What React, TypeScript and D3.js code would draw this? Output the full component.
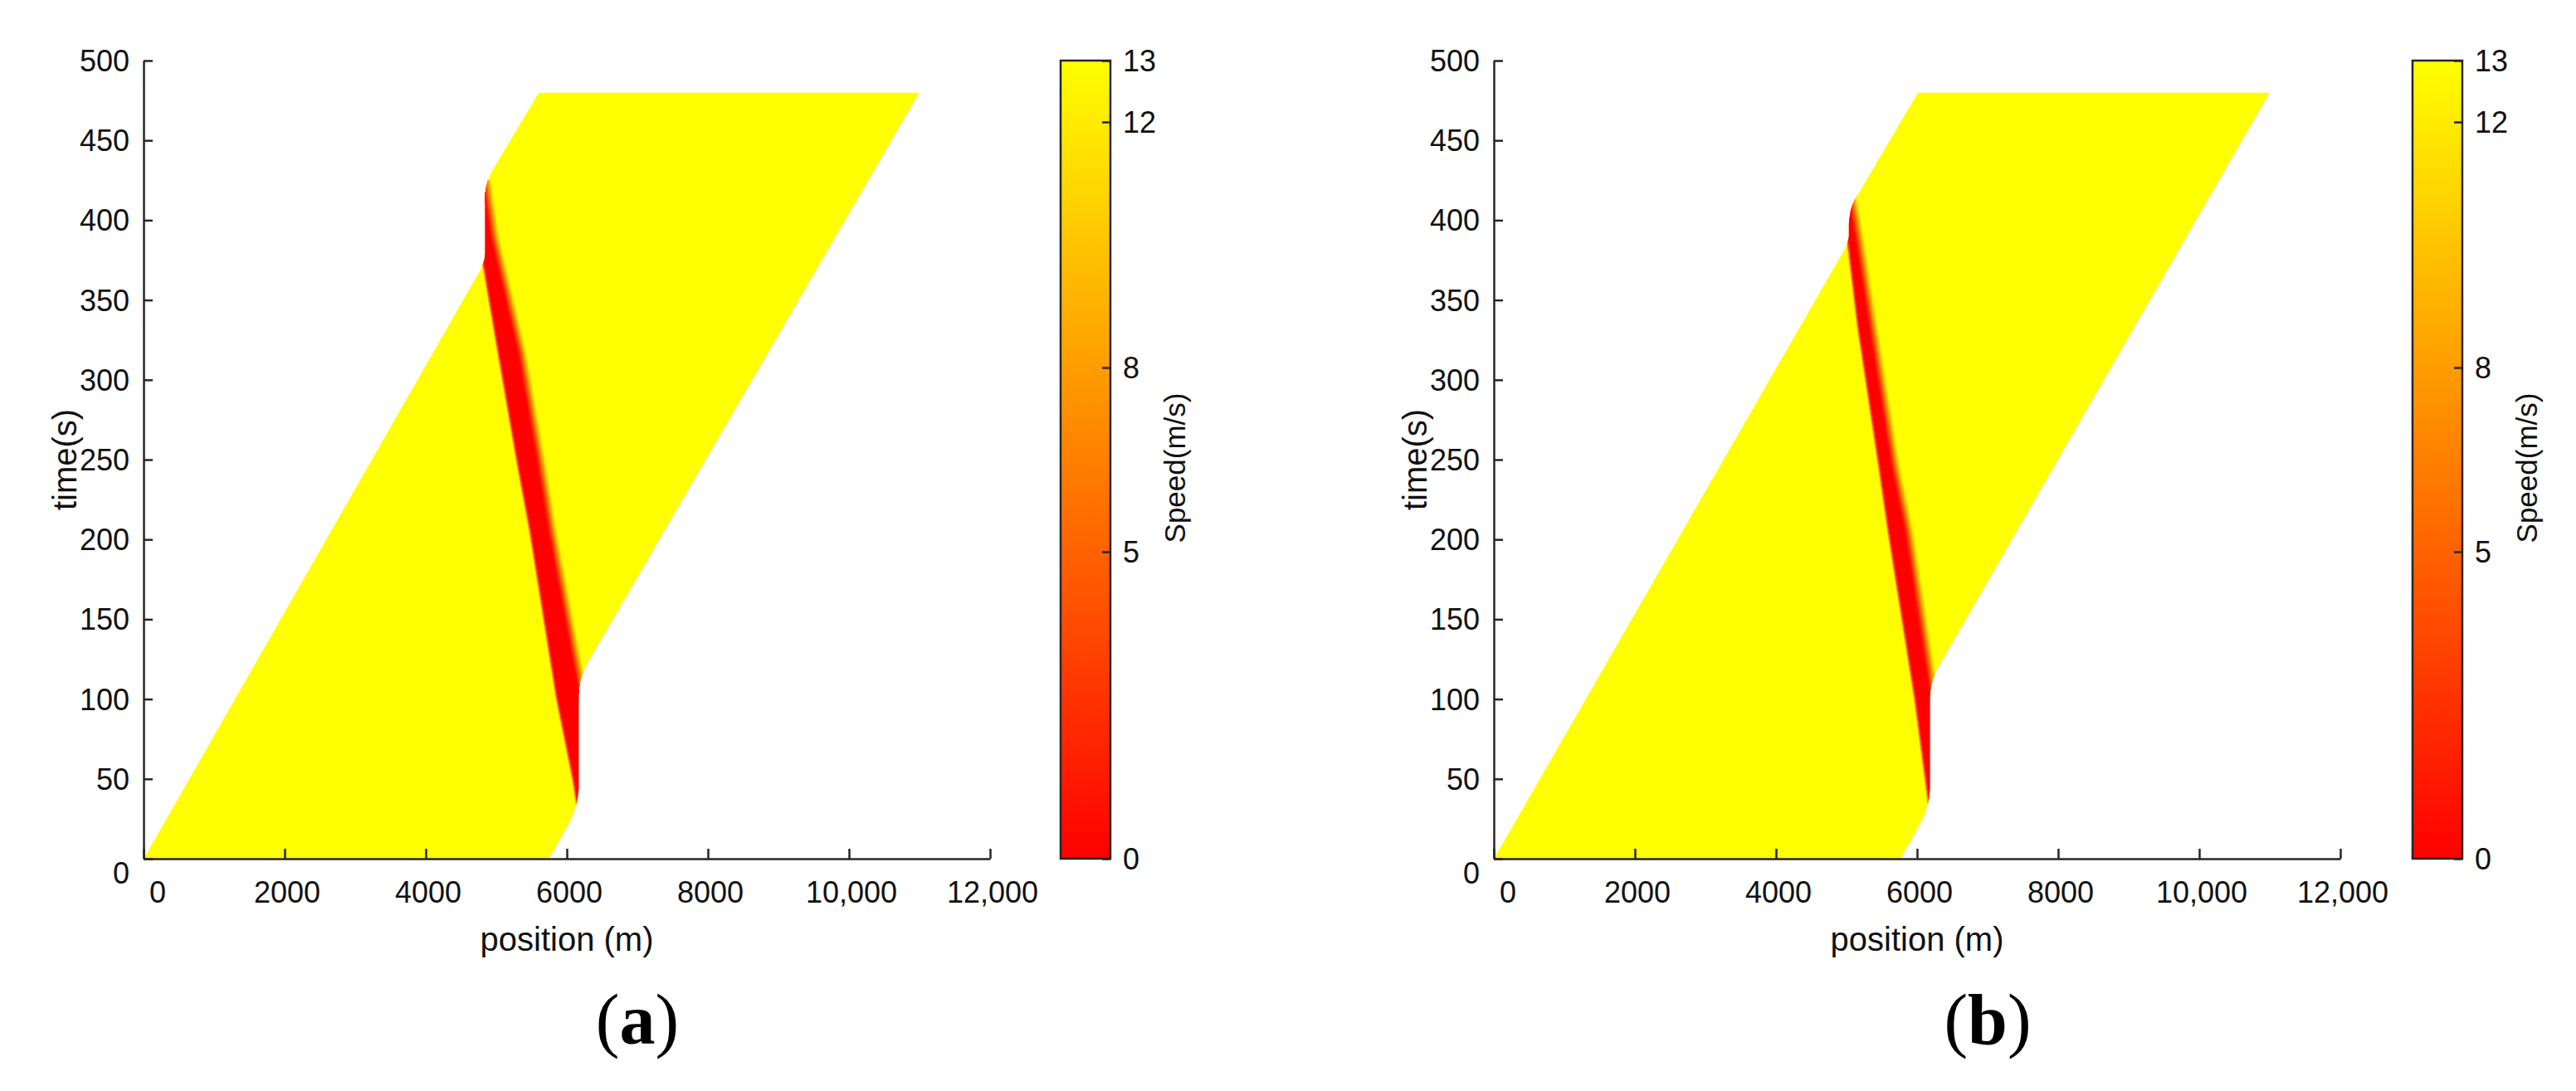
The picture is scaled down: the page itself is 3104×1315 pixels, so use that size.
import React, { useEffect, useRef } from "react";
import * as d3 from "d3";

const WIDTH = 3104;
const HEIGHT = 1315;

// axis ticks
const xTicks = [0, 2000, 4000, 6000, 8000, 10000, 12000];
const xTickLabels = ["0", "2000", "4000", "6000", "8000", "10,000", "12,000"];
const yTicks = [0, 50, 100, 150, 200, 250, 300, 350, 400, 450, 500];
const cbTicks = [0, 5, 8, 12, 13];

// panel (a): trajectory of the last vehicle (left edge of the field)
const lastTimeA = [0, 369, 373, 376, 379, 413, 417, 421, 425, 429, 480];
const lastPosA = [0, 4774, 4815, 4832, 4839, 4839, 4843, 4857, 4880, 4915, 5600];
// panel (a): trajectory of the first vehicle (right edge of the field)
const firstTimeA = [0, 22, 28, 33, 38, 44, 103, 107, 111, 115, 119, 124, 480];
const firstPosA = [5750, 6030, 6090, 6128, 6155, 6170, 6170, 6174, 6188, 6215, 6256, 6314, 11000];
// panel (a): jam tail (upstream edge of the stopped band) and jam head
const tailTimeA = [13, 49, 101, 205, 247, 316, 368, 405];
const tailPosA = [6231, 6106, 5870, 5494, 5318, 5047, 4847, 4700];
const headTimeA = [0, 98, 103, 205, 247, 316.5, 390, 425];
const headPosA = [6600, 6600, 6170, 5735, 5580, 5305, 4915, 4800];

// panel (b)
const lastTimeB = [0, 381, 384, 387, 390, 397, 401, 405, 409, 413, 480];
const lastPosB = [0, 4960, 4996, 5020, 5032, 5032, 5038, 5054, 5080, 5118, 6011];
const firstTimeB = [0, 23, 28, 33, 38, 44, 101, 105, 109, 113, 118, 480];
const firstPosB = [5765, 6059, 6110, 6145, 6170, 6184, 6184, 6188, 6201, 6228, 6277, 11000];
const tailTimeB = [20, 49, 101.5, 205, 247, 333.7, 385, 420];
const tailPosB = [6224, 6137, 5980, 5608, 5471, 5176, 5036, 4900];
const headTimeB = [0, 96, 101.5, 205, 247, 333.7, 385, 420];
const headPosB = [6600, 6600, 6184, 5824, 5627, 5314, 5134, 5000];

const headFade = 130; // m, acceleration zone after the jam head
const tailFade = 40; // m, deceleration zone before the jam tail

const FONT = "'Liberation Sans', Arial, Helvetica, sans-serif";
const INK = "#262626";

const speedColor = d3.scaleLinear<string>().domain([0, 13]).range(["#ff0000", "#ffff00"]);

const panels = [
    {
        id: "a", left: 173, cbLeft: 1278,
        lastTime: lastTimeA, lastPos: lastPosA, firstTime: firstTimeA, firstPos: firstPosA,
        tailTime: tailTimeA, tailPos: tailPosA, headTime: headTimeA, headPos: headPosA
    },
    {
        id: "b", left: 1800, cbLeft: 2907,
        lastTime: lastTimeB, lastPos: lastPosB, firstTime: firstTimeB, firstPos: firstPosB,
        tailTime: tailTimeB, tailPos: tailPosB, headTime: headTimeB, headPos: headPosB
    }
];

const plotTop = 73;
const plotBottom = 1035;
const plotWidth = 1020;
const cbWidth = 60;

function pts(pos: number[], time: number[], shift = 0): [number, number][] {
    return pos.map((v, i) => [v + shift, time[i]] as [number, number]);
}

function drawPanel(svg: any, p: any) {
    const x = d3.scaleLinear().domain([0, 12000]).range([p.left, p.left + plotWidth]);
    const y = d3.scaleLinear().domain([0, 500]).range([plotBottom, plotTop]);
    const line = d3.line<[number, number]>().x(d => x(d[0])).y(d => y(d[1]));

    const region = [...pts(p.lastPos, p.lastTime), ...pts(p.firstPos, p.firstTime).reverse()];
    const clipId = "field-" + p.id;
    svg.append("clipPath").attr("id", clipId)
        .append("path").attr("d", line(region) + "Z");

    const g = svg.append("g").attr("clip-path", `url(#${clipId})`);
    g.append("path").attr("d", line(region) + "Z").attr("fill", speedColor(13));

    const head = pts(p.headPos, p.headTime);
    const tail = pts(p.tailPos, p.tailTime);
    const steps = 16;
    for (let k = steps - 1; k >= 0; k--) {
        const w = (k + 1) * headFade / steps;
        const poly = [...head, ...pts(p.headPos, p.headTime, w).reverse()];
        g.append("path").attr("d", line(poly) + "Z")
            .attr("fill", speedColor(13 * (k + 0.5) / steps));
    }
    const tSteps = 5;
    for (let k = tSteps - 1; k >= 0; k--) {
        const w = (k + 1) * tailFade / tSteps;
        const poly = [...pts(p.tailPos, p.tailTime, -w), ...tail.slice().reverse()];
        g.append("path").attr("d", line(poly) + "Z")
            .attr("fill", speedColor(13 * (k + 0.5) / tSteps));
    }
    const jam = [...tail, ...head.slice().reverse()];
    g.append("path").attr("d", line(jam) + "Z").attr("fill", speedColor(0));

    // axes, ticks pointing inward
    const xAxis = svg.append("g")
        .attr("transform", `translate(0, ${plotBottom})`)
        .call(d3.axisBottom(x).tickValues(xTicks).tickSizeInner(-12).tickSizeOuter(0).tickFormat(() => ""));
    const yAxis = svg.append("g")
        .attr("transform", `translate(${p.left}, 0)`)
        .call(d3.axisLeft(y).tickValues(yTicks).tickSizeInner(-11).tickSizeOuter(0).tickFormat(() => ""));
    [xAxis, yAxis].forEach(a => {
        a.selectAll("path, line").attr("stroke", INK).attr("stroke-width", 2.5);
    });

    svg.append("g").selectAll("text").data(xTicks).enter().append("text")
        .attr("x", (d: number) => x(d) + (d === 0 ? 17 : 3))
        .attr("y", 1088)
        .attr("text-anchor", "middle")
        .attr("font-family", FONT).attr("font-size", 36).attr("fill", "#111")
        .text((d: number, i: number) => xTickLabels[i]);

    svg.append("g").selectAll("text").data(yTicks).enter().append("text")
        .attr("x", p.left - 17)
        .attr("y", (d: number) => y(d) + (d === 0 ? 17 : 0))
        .attr("dy", "0.36em")
        .attr("text-anchor", "end")
        .attr("font-family", FONT).attr("font-size", 36).attr("fill", "#111")
        .text((d: number) => String(d));

    svg.append("text")
        .attr("x", x(6000)).attr("y", 1146)
        .attr("text-anchor", "middle")
        .attr("font-family", FONT).attr("font-size", 40).attr("fill", "#111")
        .text("position (m)");

    svg.append("text")
        .attr("transform", `translate(${p.left - 95}, ${y(250)}) rotate(-90)`)
        .attr("text-anchor", "middle")
        .attr("dy", "0.35em")
        .attr("font-family", FONT).attr("font-size", 40).attr("fill", "#111")
        .text("time(s)");

    svg.append("text")
        .attr("x", x(6000) + 85).attr("y", 1258)
        .attr("text-anchor", "middle")
        .attr("font-family", "'Liberation Serif', 'Times New Roman', serif")
        .attr("font-size", 86).attr("fill", "#000")
        .text("(")
        .append("tspan").attr("font-weight", "bold").text(p.id)
        .select(function (this: any) { return this.parentNode; })
        .append("tspan").text(")");

    // colour bar
    const cb = d3.scaleLinear().domain([0, 13]).range([plotBottom, plotTop]);
    const gradId = "cbgrad-" + p.id;
    const grad = svg.append("linearGradient").attr("id", gradId)
        .attr("x1", 0).attr("y1", 1).attr("x2", 0).attr("y2", 0);
    [0, 13].forEach(v => grad.append("stop").attr("offset", v / 13).attr("stop-color", speedColor(v)));
    svg.append("rect")
        .attr("x", p.cbLeft).attr("y", cb(13))
        .attr("width", cbWidth).attr("height", cb(0) - cb(13))
        .attr("fill", `url(#${gradId})`)
        .attr("stroke", INK).attr("stroke-width", 2.5);
    const cbAxis = svg.append("g")
        .attr("transform", `translate(${p.cbLeft + cbWidth}, 0)`)
        .call(d3.axisRight(cb).tickValues(cbTicks).tickSizeInner(-10).tickSizeOuter(0).tickFormat(() => ""));
    cbAxis.select(".domain").remove();
    cbAxis.selectAll("line").attr("stroke", INK).attr("stroke-width", 2.5);

    svg.append("g").selectAll("text").data(cbTicks).enter().append("text")
        .attr("x", p.cbLeft + 75)
        .attr("y", (d: number) => cb(d))
        .attr("dy", "0.36em")
        .attr("font-family", FONT).attr("font-size", 36).attr("fill", "#111")
        .text((d: number) => String(d));

    svg.append("text")
        .attr("transform", `translate(${p.cbLeft + 138}, 564) rotate(-90)`)
        .attr("text-anchor", "middle")
        .attr("dy", "0.35em")
        .attr("font-family", FONT).attr("font-size", 35).attr("fill", "#111")
        .text("Speed(m/s)");
}

export default function App() {
    const ref = useRef<SVGSVGElement>(null);

    useEffect(() => {
        document.body.style.margin = "0";
        const svg = d3.select(ref.current);
        svg.selectAll("*").remove();
        panels.forEach(p => drawPanel(svg, p));
    }, []);

    return (
        <svg ref={ref} width={WIDTH} height={HEIGHT} style={{display: "block", background: "#fff"}}/>
    );
}
